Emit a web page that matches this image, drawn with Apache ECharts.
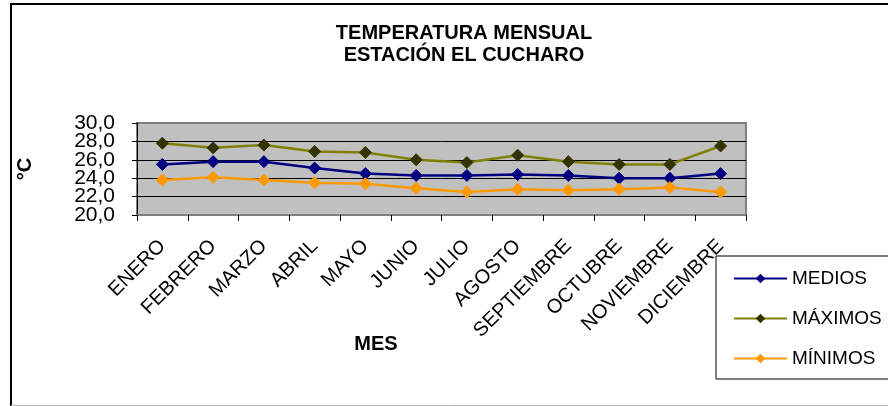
<!DOCTYPE html>
<html>
<head>
<meta charset="utf-8">
<script src="https://cdn.jsdelivr.net/npm/echarts@6/dist/echarts.min.js"></script>
<style>html,body{margin:0;padding:0;background:#fff}#c{width:888px;height:406px}</style>
</head>
<body>
<div id="c"></div>
<script>
const months = ['ENERO','FEBRERO','MARZO','ABRIL','MAYO','JUNIO','JULIO','AGOSTO','SEPTIEMBRE','OCTUBRE','NOVIEMBRE','DICIEMBRE'];
const medios = [25.5, 25.8, 25.8, 25.1, 24.5, 24.3, 24.3, 24.4, 24.3, 24.0, 24.0, 24.5];
const maximos = [27.8, 27.3, 27.6, 26.9, 26.8, 26.0, 25.7, 26.5, 25.8, 25.5, 25.5, 27.5];
const minimos = [23.8, 24.1, 23.8, 23.5, 23.4, 22.9, 22.5, 22.8, 22.7, 22.8, 23.0, 22.5];
const seriesNames = ['MEDIOS', 'MÁXIMOS', 'MÍNIMOS'];
const yTicks = [20, 22, 24, 26, 28, 30];
const yMin = 20, yMax = 30, yStep = 2;

const FONT = '"Liberation Sans", Arial, sans-serif';
const chart = echarts.init(document.getElementById('c'), null, {renderer: 'canvas'});

function mk(name, data, lineColor, markColor) {
  return {
    name: name, type: 'line', data: data, yAxisIndex: 0,
    symbol: 'diamond', symbolSize: 12,
    lineStyle: {color: lineColor, width: 2.5},
    itemStyle: {color: markColor, borderColor: markColor},
    emphasis: {disabled: true},
    animation: false
  };
}

// labels split over two overlaid axes so that ECharts does not drop tightly packed labels
function labelAxis(values) {
  return {
    type: 'value', min: yMin, max: yMax, interval: yStep, position: 'left',
    axisLine: {show: false}, axisTick: {show: false}, splitLine: {show: false},
    axisLabel: {show: true, customValues: values, margin: 22, fontFamily: FONT, fontSize: 21, color: '#000',
                showMinLabel: true, showMaxLabel: true,
                formatter: v => v.toFixed(1).replace('.', ',')}
  };
}

chart.setOption({
  animation: false,
  backgroundColor: '#fff',
  title: [
    {text: 'TEMPERATURA MENSUAL\nESTACIÓN EL CUCHARO', left: 459, top: 17, textAlign: 'center',
     textStyle: {fontFamily: FONT, fontSize: 20, fontWeight: 'bold', color: '#000', lineHeight: 22}},
    {text: 'MES', left: 371, top: 329, textAlign: 'center',
     textStyle: {fontFamily: FONT, fontSize: 20, fontWeight: 'bold', color: '#000'}}
  ],
  grid: {left: 137, right: 142, top: 123, bottom: 191, show: true,
         backgroundColor: '#c0c0c0', borderColor: '#808080', borderWidth: 2},
  xAxis: {
    type: 'category', data: months, boundaryGap: true,
    axisLine: {show: true, lineStyle: {color: '#808080', width: 2}},
    axisTick: {show: true, alignWithLabel: false, length: 6, lineStyle: {color: '#000'}},
    axisLabel: {rotate: 45, margin: 28, interval: 0, fontFamily: FONT, fontSize: 20, color: '#000'},
    splitLine: {show: false}
  },
  yAxis: [
    {
      type: 'value', min: yMin, max: yMax, interval: yStep, position: 'left',
      name: '°C', nameLocation: 'middle', nameGap: 102, nameRotate: 90,
      nameTextStyle: {fontFamily: FONT, fontSize: 20, fontWeight: 'bold', color: '#000'},
      axisLine: {show: true, lineStyle: {color: '#000', width: 1}},
      axisTick: {show: true, inside: false, length: 5, lineStyle: {color: '#000'}},
      axisLabel: {show: false},
      splitLine: {show: true, lineStyle: {color: ['#808080','#000','#000','#000','#000','#808080'], width: 1}}
    },
    labelAxis(yTicks.filter((v, i) => i % 2 === 0)),
    labelAxis(yTicks.filter((v, i) => i % 2 === 1))
  ],
  legend: {
    orient: 'vertical', left: 716, top: 256,
    data: seriesNames,
    itemWidth: 53, itemHeight: 12, itemGap: 21,
    padding: [13, 60, 11, 17],
    borderColor: '#000', borderWidth: 1, backgroundColor: '#fff',
    textStyle: {fontFamily: FONT, fontSize: 19, color: '#000'},
    selectedMode: false
  },
  series: [
    mk(seriesNames[0], medios, '#000080', '#000080'),
    mk(seriesNames[1], maximos, '#808000', '#333300'),
    mk(seriesNames[2], minimos, '#FF9900', '#FF9900')
  ],
  graphic: [
    {type: 'line', shape: {x1: 11, y1: 4, x2: 888, y2: 4}, style: {stroke: '#000', lineWidth: 2}, silent: true},
    {type: 'line', shape: {x1: 11, y1: 3, x2: 11, y2: 406}, style: {stroke: '#000', lineWidth: 2}, silent: true},
    {type: 'line', shape: {x1: 11, y1: 405.5, x2: 888, y2: 405.5}, style: {stroke: '#bbb', lineWidth: 1}, silent: true}
  ]
});
</script>
</body>
</html>
